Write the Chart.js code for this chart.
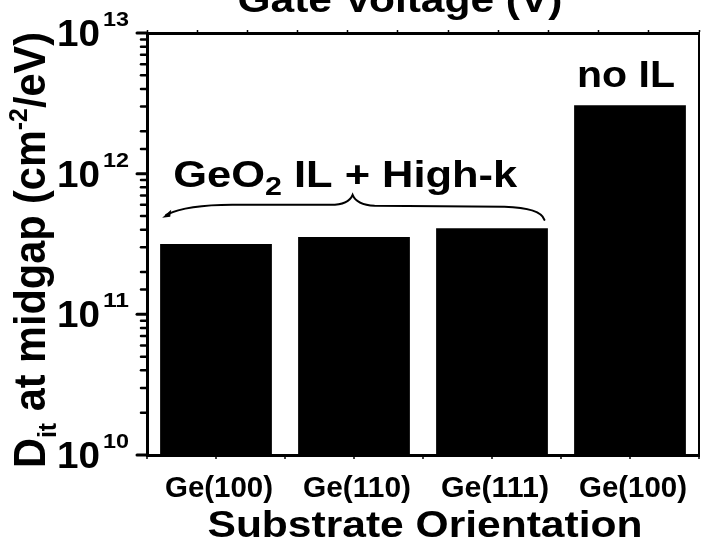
<!DOCTYPE html>
<html>
<head>
<meta charset="utf-8">
<script src="https://cdn.jsdelivr.net/npm/chart.js@4.4.1/dist/chart.umd.min.js"></script>
<style>
  html, body { margin: 0; padding: 0; background: #fff; }
  #wrap { width: 702px; height: 547px; position: relative; }
</style>
</head>
<body>
<div id="wrap"><canvas id="ditChart"></canvas></div>
<script>
// Data
const categories = ['Ge(100)', 'Ge(110)', 'Ge(111)', 'Ge(100)'];
const ditValues = [3.16e11, 3.55e11, 4.1e11, 3.07e12];
const yRange = [1e10, 1e13];
const gateVoltageRange = [-3, 2];   // top axis of the clipped Gate Voltage panel (labels not visible)
const gateVoltageStep = 0.5;

const FONT = '"Liberation Sans", Arial, Helvetica, sans-serif';

// draw a list of [text, sizeFactor, dyFactor] runs, stretched to a given width
function drawRuns(ctx, runs, x, y, size, width, align) {
    let total = 0;
    const widths = runs.map(r => {
        ctx.font = `bold ${size * r[1]}px ${FONT}`;
        const w = ctx.measureText(r[0]).width;
        total += w;
        return w;
    });
    const k = width ? width / total : 1;
    let start = x;
    if (align === 'center') start = x - total * k / 2;
    if (align === 'right') start = x - total * k;
    ctx.save();
    ctx.translate(start, y);
    ctx.scale(k, 1);
    ctx.textAlign = 'left';
    ctx.textBaseline = 'alphabetic';
    ctx.fillStyle = '#000';
    let cx = 0;
    runs.forEach((r, i) => {
        ctx.font = `bold ${size * r[1]}px ${FONT}`;
        ctx.fillText(r[0], cx, r[2] * size);
        cx += widths[i];
    });
    ctx.restore();
}

const decorPlugin = {
    id: 'decor',
    afterDraw(chart) {
        const ctx = chart.ctx;
        const area = chart.chartArea;
        const xs = chart.scales.x;
        const ys = chart.scales.y;
        ctx.save();
        ctx.strokeStyle = '#000';
        ctx.fillStyle = '#000';

        // right frame line
        ctx.lineWidth = 2;
        ctx.beginPath();
        ctx.moveTo(area.right, area.top);
        ctx.lineTo(area.right, area.bottom);
        ctx.stroke();

        // y ticks: long at decades, short for minor ones
        ctx.lineCap = 'round';
        ys.ticks.forEach(t => {
            const lg = Math.log10(t.value);
            const major = Math.abs(lg - Math.round(lg)) < 1e-6;
            const py = ys.getPixelForValue(t.value);
            ctx.lineWidth = major ? 3 : 2.5;
            ctx.beginPath();
            ctx.moveTo(area.left, py);
            ctx.lineTo(area.left - (major ? 10 : 6), py);
            ctx.stroke();
            if (major) {
                const exp = Math.round(lg);
                drawRuns(ctx, [['10', 1, 0]], area.left - 47, py + 13, 37, 43, 'right');
                drawRuns(ctx, [[String(exp), 1, 0]], area.left - 44, py - 7, 21, 26, 'left');
            }
        });

        // bottom ticks at category centres and between them
        ctx.lineCap = 'butt';
        ctx.lineWidth = 1.5;
        for (let i = -0.5; i <= categories.length - 0.5; i += 0.5) {
            const px = xs.getPixelForValue(i);
            ctx.beginPath();
            ctx.moveTo(px, area.bottom);
            ctx.lineTo(px, area.bottom + 4);
            ctx.stroke();
        }

        // category labels
        categories.forEach((c, i) => {
            drawRuns(ctx, [[c, 1, 0]], xs.getPixelForValue(i) + 3, area.bottom + 42, 29, 108, 'center');
        });

        // axis titles
        drawRuns(ctx, [['Substrate Orientation', 1, 0]], 425, 537, 37, 435, 'center');
        drawRuns(ctx, [['Gate Voltage (V)', 1, 0]], 400, 12, 36, 325, 'center');
        ctx.save();
        ctx.translate(45, 250);
        ctx.rotate(-Math.PI / 2);
        drawRuns(ctx, [['D', 1, 0], ['it', 0.6, 0.25], [' at midgap (cm', 1, 0], ['-2', 0.6, -0.42], ['/eV)', 1, 0]], 0, 0, 44, 436, 'center');
        ctx.restore();

        // annotations
        drawRuns(ctx, [['no IL', 1, 0]], xs.getPixelForValue(3) - 4, ys.getPixelForValue(4.1e12), 36, 98, 'center');
        drawRuns(ctx, [['GeO', 1, 0], ['2', 0.7, 0.22], [' IL + High-k', 1, 0]], xs.getPixelForValue(-0.31), ys.getPixelForValue(8e11), 36, 344, 'left');

        // curly brace over the three GeO2 bars
        const xL = xs.getPixelForValue(-0.39);
        const xR = xs.getPixelForValue(2.38);
        const xM = xs.getPixelForValue(0.99);
        const yM = ys.getPixelForValue(6e11);
        ctx.lineWidth = 2;
        ctx.lineCap = 'round';
        ctx.beginPath();
        ctx.moveTo(xL + 4, yM + 10);
        ctx.quadraticCurveTo(xL + 25, yM, xL + 70, yM);
        ctx.lineTo(xM - 22, yM);
        ctx.quadraticCurveTo(xM - 4, yM, xM, yM - 10);
        ctx.quadraticCurveTo(xM + 4, yM, xM + 22, yM + 1);
        ctx.lineTo(xR - 40, yM + 2);
        ctx.quadraticCurveTo(xR - 4, yM + 3, xR, yM + 15);
        ctx.stroke();
        ctx.beginPath();
        ctx.moveTo(xL, yM + 13);
        ctx.lineTo(xL + 9, yM + 5);
        ctx.lineTo(xL + 8, yM + 12);
        ctx.closePath();
        ctx.fill();

        ctx.restore();
    }
};

const ctxDit = document.getElementById('ditChart').getContext('2d');
new Chart(ctxDit, {
    type: 'bar',
    data: {
        labels: categories,
        datasets: [{ data: ditValues, backgroundColor: '#000', borderWidth: 0, barPercentage: 0.81, categoryPercentage: 1 }]
    },
    options: {
        responsive: true, maintainAspectRatio: false, animation: false,
        layout: { padding: { left: 147, right: 3, top: 30, bottom: 92 } },
        plugins: { legend: { display: false }, tooltip: { enabled: false } },
        scales: {
            x: { type: 'category', offset: true, grid: { display: false, drawTicks: false }, ticks: { display: false }, border: { color: '#000', width: 3 } },
            y: { type: 'logarithmic', min: yRange[0], max: yRange[1], grid: { display: false, drawTicks: false }, ticks: { display: false }, border: { color: '#000', width: 3 } },
            gate: {
                type: 'linear', position: 'top', min: gateVoltageRange[0], max: gateVoltageRange[1],
                ticks: { display: false, stepSize: gateVoltageStep },
                grid: { drawOnChartArea: false, tickLength: 3, tickWidth: 1.5, color: '#000' },
                border: { color: '#000', width: 3 }
            }
        }
    },
    plugins: [decorPlugin]
});
</script>
</body>
</html>
